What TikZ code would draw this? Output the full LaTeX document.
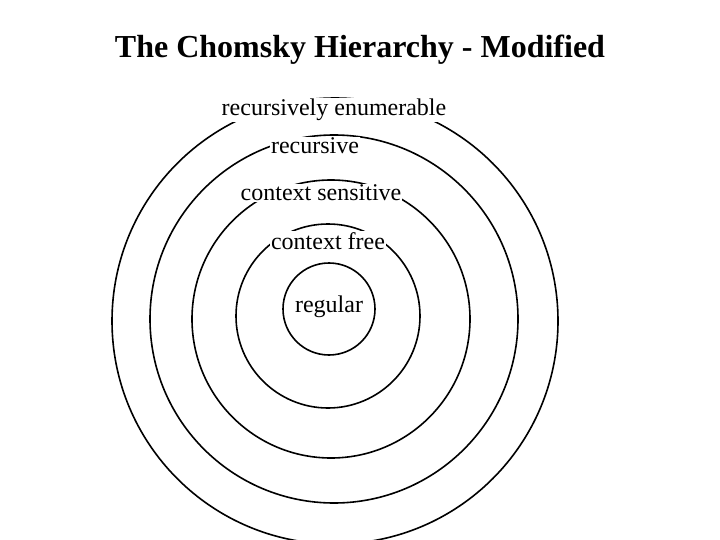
\documentclass[tikz,border=0pt]{standalone}
\usepackage{fontspec}
\setmainfont{Liberation Serif}
\begin{document}
\begin{tikzpicture}[x=1pt,y=-1pt,
  ring/.style={draw=black,line width=1.6pt},
  lbl/.style={fill=white,inner sep=1pt,font=\fontsize{24}{28}\selectfont}]
\useasboundingbox (0,0) rectangle (720,540);
\clip (0,0) rectangle (720,540);
\node[ring,circle,minimum size=446pt,inner sep=0pt] (c1) at (335,321) {};
\node[ring,circle,minimum size=368pt,inner sep=0pt] (c2) at (334,319) {};
\node[ring,circle,minimum size=278pt,inner sep=0pt] (c3) at (331,319) {};
\node[ring,circle,minimum size=184pt,inner sep=0pt] (c4) at (328,316) {};
\node[ring,circle,minimum size=92pt,inner sep=0pt] (c5) at (329,309) {};
\node[font=\bfseries\fontsize{32}{36}\selectfont] (t) at (360,50) {The Chomsky Hierarchy - Modified};
\node[lbl] (l1) at (334,110) {recursively enumerable};
\node[lbl] (l2) at (315,146) {recursive};
\node[lbl] (l3) at (321,193) {context sensitive};
\node[lbl] (l4) at (328,241) {context free};
\node[lbl] (l5) at (329,307) {regular};
\end{tikzpicture}
\end{document}
